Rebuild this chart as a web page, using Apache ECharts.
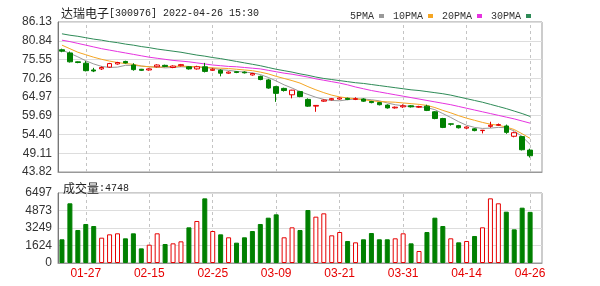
<!DOCTYPE html>
<html><head><meta charset="utf-8">
<script src="https://cdn.jsdelivr.net/npm/echarts@6/dist/echarts.min.js"></script>
<style>html,body{margin:0;padding:0;background:#fff}#c{width:600px;height:286px}</style>
</head><body><div id="c"></div>
<script>
const dates = ['01-24','01-25','01-26','01-27','01-28','02-07','02-08','02-09','02-10','02-11',
  '02-14','02-15','02-16','02-17','02-18','02-21','02-22','02-23','02-24','02-25',
  '02-28','03-01','03-02','03-03','03-04','03-07','03-08','03-09','03-10','03-11',
  '03-14','03-15','03-16','03-17','03-18','03-21','03-22','03-23','03-24','03-25',
  '03-28','03-29','03-30','03-31','04-01','04-06','04-07','04-08','04-11','04-12',
  '04-13','04-14','04-15','04-18','04-19','04-20','04-21','04-22','04-25','04-26'];
const opens = [78.3,77.4,74.9,74.5,72.6,72.9,73.4,74.3,75.0,74.0,
  72.8,72.6,73.5,73.9,73.3,73.8,73.5,72.9,73.5,72.5,
  72.5,71.7,72.1,72.0,71.2,70.8,69.8,67.9,67.4,65.6,
  66.5,64.3,62.4,63.8,64.2,64.4,64.6,64.3,64.4,63.7,
  63.4,62.7,61.9,62.2,62.5,62.1,62.4,60.8,58.9,57.4,
  56.9,56.2,56.0,55.5,56.7,57.0,56.8,53.9,53.8,50.0];
const closes = [77.9,74.9,74.7,72.4,72.3,73.3,74.4,74.7,74.6,72.7,
  72.5,72.9,74.0,73.6,73.7,74.1,72.9,73.5,72.2,72.8,
  71.7,72.0,71.9,71.8,71.6,69.9,67.5,66.0,66.8,66.9,
  65.1,62.4,62.6,64.1,64.5,64.7,64.3,64.5,63.8,63.4,
  62.8,61.9,62.1,62.5,62.2,62.3,61.2,58.9,56.4,57.3,
  56.3,56.5,55.5,55.6,57.0,57.2,55.0,54.9,50.1,48.4];
const lows = [77.6,74.7,74.5,72.2,72.0,72.6,73.2,74.1,74.4,72.4,
  72.3,72.4,73.3,73.4,73.1,73.6,72.7,72.7,71.9,72.3,
  70.8,71.5,71.7,71.6,71.0,69.7,67.3,63.6,66.5,64.6,
  64.9,62.2,60.8,63.6,64.0,64.2,64.1,64.1,63.6,63.2,
  62.6,61.7,61.7,61.9,62.0,61.9,61.0,58.7,56.2,56.9,
  56.1,56.0,55.3,54.7,56.3,56.8,54.6,53.6,49.9,47.9];
const highs = [78.6,77.8,75.0,75.1,73.2,73.6,74.6,74.9,75.2,74.5,
  72.9,73.1,74.2,74.1,73.9,74.3,73.7,73.8,74.6,73.1,
  72.8,72.2,72.3,72.2,71.8,71.0,70.1,68.1,67.6,67.0,
  66.7,64.6,62.7,64.3,64.7,64.9,64.8,64.9,64.6,63.9,
  63.6,62.9,62.3,62.9,62.7,62.5,62.8,61.0,59.1,57.5,
  57.1,56.7,56.2,55.7,58.0,57.5,57.2,55.2,54.0,50.4];
const volumes = [2200,5540,3063,3620,3434,2350,2660,2755,2290,2755,
  1360,1700,2755,1763,1825,2010,3310,3900,6000,2970,
  2660,2385,1887,2385,2970,3620,4207,4516,2385,3310,
  3063,4919,4300,4610,2568,2877,2042,1918,2200,2784,
  2200,2200,2290,2755,1825,1114,2877,4207,3434,2290,
  1918,2042,2506,3310,6000,5540,4764,3125,5135,4748];
const ma5 = [78.2,77.3,76.3,75.2,74.3,73.6,73.3,73.4,73.9,73.9,
  73.7,73.5,73.4,73.2,73.3,73.5,73.4,73.5,73.3,73.1,
  72.7,72.5,72.2,72.0,71.8,71.3,70.5,69.5,68.4,67.5,
  66.5,65.7,64.9,64.3,64.0,63.9,64.2,64.4,64.4,64.2,
  63.9,63.3,62.8,62.5,62.3,62.2,62.0,61.4,60.3,59.2,
  58.0,57.0,56.4,56.1,56.2,56.4,56.3,55.4,53.8,51.6];
const ma10 = [79.6,78.6,77.6,76.9,76.2,75.6,75.1,74.7,74.4,74.2,
  73.7,73.5,73.4,73.5,73.6,73.7,73.6,73.5,73.3,73.2,
  73.1,73.0,72.8,72.6,72.4,72.0,71.5,70.8,70.2,69.6,
  68.9,67.9,67.0,66.2,65.5,65.0,64.7,64.5,64.2,63.9,
  63.7,63.6,63.5,63.3,63.1,62.9,62.6,62.0,61.2,60.5,
  59.7,59.0,58.4,57.8,57.3,57.0,56.5,55.8,54.6,53.3];
const ma20 = [81.0,80.6,80.1,79.6,79.1,78.6,78.2,77.8,77.4,77.0,
  76.6,76.2,75.9,75.6,75.3,75.1,74.9,74.6,74.3,74.0,
  73.8,73.6,73.5,73.3,73.1,72.9,72.5,72.1,71.7,71.4,
  71.0,70.6,70.1,69.7,69.3,68.9,68.4,67.8,67.3,66.8,
  66.4,66.0,65.6,65.2,64.8,64.4,64.0,63.6,63.2,62.8,
  62.3,61.8,61.3,60.8,60.3,59.8,59.3,58.8,58.2,57.6];
const ma30 = [82.8,82.4,82.1,81.7,81.3,81.0,80.6,80.3,79.9,79.6,
  79.2,78.9,78.5,78.2,77.9,77.6,77.2,76.8,76.5,76.1,
  75.8,75.4,75.0,74.6,74.2,73.8,73.3,72.8,72.4,72.0,
  71.5,71.1,70.6,70.2,69.9,69.6,69.3,69.0,68.8,68.5,
  68.2,67.9,67.6,67.3,67.0,66.8,66.5,66.2,65.9,65.5,
  65.0,64.5,64.0,63.5,62.9,62.3,61.7,61.0,60.3,59.5];
const priceTicks = [43.82,49.11,54.40,59.69,64.97,70.26,75.55,80.84,86.13];
const volumeTicks = [0,1624,3249,4873,6497];
const stockName = '达瑞电子';
const stockInfo = '[300976] 2022-04-26 15:30';

const RED = '#e60000', GREEN = '#008000';
const candleData = dates.map((d, i) => [opens[i], closes[i], lows[i], highs[i]]);
const volData = volumes.map((v, i) => {
  const prev = i > 0 ? closes[i - 1] : opens[0];
  const up = closes[i] >= prev;
  return { value: v, itemStyle: up ? { color: '#fff', borderColor: RED, borderWidth: 1 } : { color: GREEN, borderColor: GREEN, borderWidth: 1 } };
});
const showIdx = (i) => i % 8 === 3;
const font = 'Liberation Sans, Arial, sans-serif';
const mono = '"Liberation Mono", monospace';
const cjk = '"Noto Sans CJK SC", sans-serif';
const labelDates = dates.filter((d, i) => showIdx(i));
const vLineData = labelDates.map(d => ({ xAxis: d }));
const vLine = {
  silent: true, symbol: 'none', label: { show: false }, z: 1,
  lineStyle: { color: '#c4c4c4', type: [3, 3], width: 1 }, data: vLineData
};
const richTitle = {
  a: { fontSize: 12, color: '#222', fontFamily: cjk, fontWeight: 'normal' },
  b: { fontSize: 10, color: '#222', fontFamily: mono, fontWeight: 'normal' }
};

const chart = echarts.init(document.getElementById('c'), null, { renderer: 'canvas' });
chart.setOption({
  animation: false,
  backgroundColor: '#fff',
  title: [
    { text: '{a|' + stockName + '}{b|' + stockInfo + '}', left: 56, top: 2,
      textStyle: { fontWeight: 'normal', rich: richTitle } },
    { text: '{a|成交量}{b|:' + volumes[volumes.length - 1] + '}', left: 58, top: 177,
      textStyle: { fontWeight: 'normal', rich: richTitle } }
  ],
  legend: {
    top: 6, right: 64, align: 'right', icon: 'rect', itemWidth: 5, itemHeight: 4, itemGap: 9,
    textStyle: { fontSize: 10, color: '#333', fontFamily: mono, padding: [0, 0, 0, 0] },
    data: ['5PMA', '10PMA', '20PMA', '30PMA']
  },
  grid: [
    { left: 58, top: 22, width: 484, height: 150, show: true, borderColor: '#999', borderWidth: 1 },
    { left: 58, top: 193, width: 484, height: 70, show: true, borderColor: '#999', borderWidth: 1 }
  ],
  xAxis: [
    { type: 'category', gridIndex: 0, data: dates, max: 60, boundaryGap: true,
      axisLine: { lineStyle: { color: '#999' } }, axisTick: { show: false }, axisLabel: { show: false },
      splitLine: { show: false } },
    { type: 'category', gridIndex: 1, data: dates, max: 60, boundaryGap: true,
      axisLine: { lineStyle: { color: '#999' } }, axisTick: { show: false },
      axisLabel: { interval: (i) => showIdx(i), color: RED, fontSize: 12, fontFamily: font, margin: 5 },
      splitLine: { show: false } }
  ],
  yAxis: [
    { type: 'value', gridIndex: 0, min: priceTicks[0], max: priceTicks[priceTicks.length - 1],
      axisLine: { show: true, lineStyle: { color: '#777' } }, axisTick: { show: false, customValues: priceTicks },
      axisLabel: { customValues: priceTicks, formatter: (v) => v.toFixed(2), color: '#333', fontSize: 12, fontFamily: font, margin: 6 },
      splitLine: { show: true, lineStyle: { color: '#ddd' } } },
    { type: 'value', gridIndex: 1, min: 0, max: volumeTicks[volumeTicks.length - 1],
      axisLine: { show: true, lineStyle: { color: '#777' } }, axisTick: { show: false, customValues: volumeTicks },
      axisLabel: { customValues: volumeTicks, formatter: (v) => String(Math.round(v)), color: '#333', fontSize: 12, fontFamily: font, margin: 6 },
      splitLine: { show: true, lineStyle: { color: '#ddd' } } }
  ],
  series: [
    { type: 'candlestick', xAxisIndex: 0, yAxisIndex: 0, data: candleData, barWidth: 5, markLine: vLine, z: 3,
      itemStyle: { color: '#fff', color0: GREEN, borderColor: RED, borderColor0: GREEN, borderWidth: 1 } },
    { name: '5PMA', type: 'line', data: ma5, symbol: 'none', xAxisIndex: 0, yAxisIndex: 0, color: '#999', lineStyle: { width: 1, color: '#999' } },
    { name: '10PMA', type: 'line', data: ma10, symbol: 'none', xAxisIndex: 0, yAxisIndex: 0, color: '#f5a623', lineStyle: { width: 1, color: '#f5a623' } },
    { name: '20PMA', type: 'line', data: ma20, symbol: 'none', xAxisIndex: 0, yAxisIndex: 0, color: '#e633e0', lineStyle: { width: 1, color: '#e633e0' } },
    { name: '30PMA', type: 'line', data: ma30, symbol: 'none', xAxisIndex: 0, yAxisIndex: 0, color: '#2e8b57', lineStyle: { width: 1, color: '#2e8b57' } },
    { type: 'bar', xAxisIndex: 1, yAxisIndex: 1, data: volData, barWidth: 5, z: 3, markLine: vLine }
  ]
});
</script></body></html>
